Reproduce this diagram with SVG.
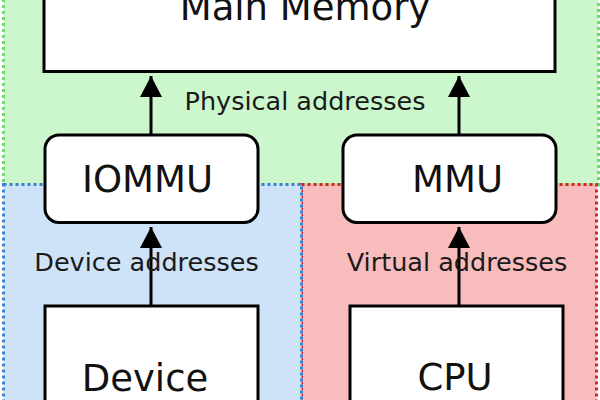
<svg xmlns="http://www.w3.org/2000/svg" width="600" height="400" viewBox="0 0 600 400">
<style>
.region{stroke-width:3;stroke-dasharray:3 3}
.box{fill:#fff;stroke:#000;stroke-width:3}
.big{font-family:"DejaVu Sans",sans-serif;font-size:37px;fill:#111;text-anchor:middle}
.lbl{font-family:"DejaVu Sans",sans-serif;font-size:25.5px;fill:#1a1a1a;text-anchor:middle}
.edge{stroke:#000;stroke-width:3;fill:none;marker-end:url(#ah)}
</style>
<defs>
<marker id="ah" markerUnits="userSpaceOnUse" markerWidth="22" markerHeight="22" refX="21" refY="11" orient="auto" viewBox="0 0 22 22">
<path d="M0,0 L21,11 L0,22 Z" fill="#000"/>
</marker>
</defs>
<g id="regions">
<rect id="physical" class="region" x="3.5" y="-20" width="595" height="205" fill="#ccf6cc" stroke="#72d872"/>
<rect id="cpu-region" class="region" x="301.5" y="184.5" width="295" height="240" fill="#f9bcbc" stroke="#d42424"/>
<rect id="device-region" class="region" x="3.5" y="184.5" width="298" height="240" fill="#cfe3f8" stroke="#3c84d2"/>
</g>
<g id="connectors">
<line class="edge" x1="151" y1="135" x2="151" y2="76"/>
<line class="edge" x1="459" y1="135" x2="459" y2="76"/>
<line class="edge" x1="151" y1="306" x2="151" y2="227"/>
<line class="edge" x1="459" y1="306" x2="459" y2="227"/>
</g>
<g id="labels">
<text class="lbl" x="305" y="110">Physical addresses</text>
<text class="lbl" x="146.5" y="271">Device addresses</text>
<text class="lbl" x="457" y="271">Virtual addresses</text>
</g>
<g id="main-memory">
<rect class="box" x="44" y="-20" width="511" height="91.5"/>
<text class="big" x="305" y="20">Main Memory</text>
</g>
<g id="iommu">
<rect class="box" x="45" y="135" width="213" height="87.5" rx="14"/>
<text class="big" x="147.5" y="192">IOMMU</text>
</g>
<g id="mmu">
<rect class="box" x="343" y="135" width="213" height="87.5" rx="14"/>
<text class="big" x="457.5" y="192">MMU</text>
</g>
<g id="device">
<rect class="box" x="45" y="306" width="213" height="120"/>
<text class="big" x="145" y="391">Device</text>
</g>
<g id="cpu">
<rect class="box" x="350" y="306" width="213" height="120"/>
<text class="big" x="455" y="390">CPU</text>
</g>
</svg>
